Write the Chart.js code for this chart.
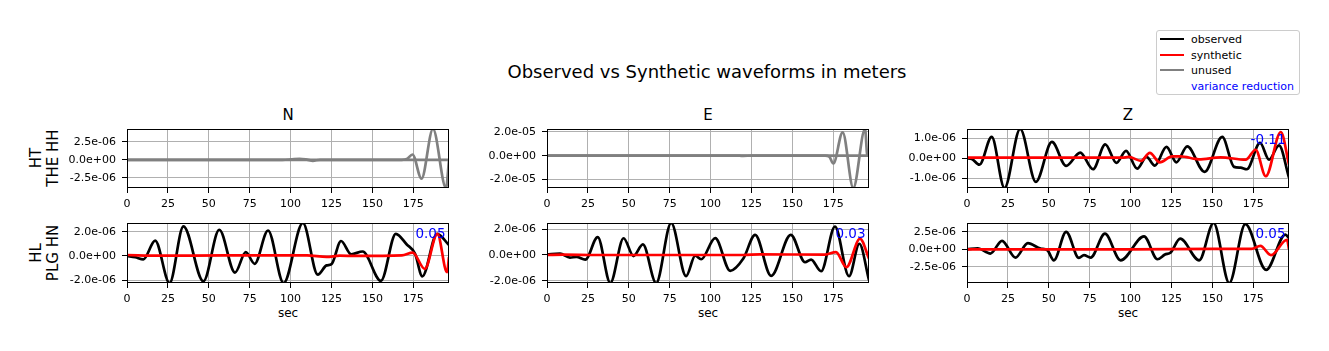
<!DOCTYPE html>
<html lang="en">
<head>
<meta charset="UTF-8">
<title>Observed vs Synthetic waveforms in meters</title>
<script src="https://cdn.jsdelivr.net/npm/chart.js"></script>
<style>
    * { margin: 0; padding: 0; box-sizing: border-box; }
    body {
        width: 1329px; height: 351px; position: relative; overflow: hidden;
        background: #fff; color: #000;
        font-family: 'DejaVu Sans', sans-serif;
    }
    canvas { position: absolute; }
    .txt { position: absolute; white-space: nowrap; line-height: 1; }

    .title { left: 707px; top: 63px; font-size: 18px; transform: translateX(-50%); }
    .coltitle { top: 108px; font-size: 15px; transform: translateX(-50%); }
    .xlabel { top: 307px; font-size: 12px; transform: translateX(-50%); }
    .ylabel {
        position: absolute; left: 45px; font-size: 15px; line-height: 17px;
        text-align: center; white-space: nowrap;
        transform: translate(-50%, -50%) rotate(-90deg);
    }

    /* Legend */
    #legend {
        position: absolute; left: 1156px; top: 30px; width: 144px; height: 65px;
        border: 1px solid #cccccc; border-radius: 3px; background: rgba(255,255,255,0.8);
    }
    #legend .handle { position: absolute; left: 3px; width: 24px; height: 2px; margin-top: -1px; }
    #legend .label { position: absolute; left: 34px; font-size: 11px; line-height: 11px; transform: translateY(-50%); }
</style>
</head>
<body>

<div class="txt title">Observed vs Synthetic waveforms in meters</div>
<div class="txt coltitle" style="left:288px">N</div>
<div class="txt coltitle" style="left:708px">E</div>
<div class="txt coltitle" style="left:1128px">Z</div>

<div class="ylabel" style="top:158px">HT<br>THE HH</div>
<div class="ylabel" style="top:253px">HL<br>PLG HN</div>

<div class="txt xlabel" style="left:288px">sec</div>
<div class="txt xlabel" style="left:708px">sec</div>
<div class="txt xlabel" style="left:1128px">sec</div>

<div id="legend">
    <div class="handle" style="top:8px; background:#000"></div>
    <div class="label" style="top:8px">observed</div>
    <div class="handle" style="top:24px; background:#ff0000"></div>
    <div class="label" style="top:24px">synthetic</div>
    <div class="handle" style="top:39px; background:#808080"></div>
    <div class="label" style="top:39px">unused</div>
    <div class="label" style="top:55px; color:#0000ff">variance reduction</div>
</div>

<canvas id="nTop"></canvas>
<canvas id="eTop"></canvas>
<canvas id="zTop"></canvas>
<canvas id="nBot"></canvas>
<canvas id="eBot"></canvas>
<canvas id="zBot"></canvas>

<script>
    // ---- data (time in sec, displacement in micrometres) ----
    const xTicks = [0, 25, 50, 75, 100, 125, 150, 175];
    const tEnd = 196.8;

    // N, HT THE HH (unused)
    const nTopT    = [0, 95, 100, 105.5, 110, 113.6, 118, 125, 168, 171, 174.5, 180, 187, 195, 196.8];
    const nTopObs  = [0, 0, 0.05, 0.14, 0.02, -0.14, 0, 0, 0, 0.1, 0.74, -2.64, 4.31, -3.95, 0];
    const nTopSynT = [0, 196.8];
    const nTopSyn  = [0, 0];

    // N, HL PLG HN
    const nBotT    = [0, 5, 10, 17.2, 26, 34.5, 46.7, 56.4, 66, 72.6, 78, 86.2, 95.7, 107.5, 116.6, 122, 125, 130.8, 137, 144, 155.2, 164.3, 171, 176, 180.5, 189.5, 196.8];
    const nBotObs  = [0, -0.1, -0.28, 1.27, -2.24, 2.45, -2.1, 2.17, -1.38, 0.31, -0.65, 2.11, -2.24, 2.73, -1.55, -0.78, -0.68, 1.24, 0.14, 0.37, -2.06, 1.83, 0.95, 0.2, -1.69, 1.83, 0.9];
    const nBotSynT = [0, 20, 60, 110, 122, 130, 140, 168, 174.6, 182, 189.7, 195.6, 196.8];
    const nBotSyn  = [0.08, 0.02, 0.05, 0.05, -0.08, 0.02, 0, 0.05, 0.28, -1.07, 1.83, -1.35, -0.1];

    // E, HT THE HH (unused)
    const eTopT    = [0, 110, 115, 120, 125, 170, 172.5, 175, 180.7, 187.2, 194.4, 195.8, 196.8];
    const eTopObs  = [0, 0, 0.15, -0.15, 0, 0, -0.8, -6.6, 19.7, -27.3, 22.5, 0, 0];
    const eTopSynT = [0, 196.8];
    const eTopSyn  = [0, 0];

    // E, HL PLG HN
    const eBotT    = [0, 8, 14, 18, 23.4, 31, 38.7, 46.8, 52.9, 58.6, 66.7, 75.9, 85, 90.6, 94.2, 102.8, 112, 120, 127.2, 137, 149, 157.7, 161.4, 167.5, 176, 184.6, 190.9, 196.8];
    const eBotObs  = [0.05, 0.1, -0.2, -0.15, -0.36, 1.38, -2.17, 1.3, -0.08, 0.82, -2.17, 2.48, -1.64, -0.05, -0.33, 1.31, -1.23, -0.28, 1.56, -1.62, 1.56, -0.56, -0.36, -1.26, 2.2, -1.64, 0.87, -1.95];
    const eBotSynT = [0, 10, 30, 120, 130, 170, 176.6, 183, 191.3, 196.8];
    const eBotSyn  = [0, 0.03, 0, 0, 0.05, 0.03, 0.23, -0.95, 1.26, -0.28];

    // Z, HT THE HH
    const zTopT    = [0, 2.9, 7.6, 15.1, 22.9, 32.5, 42.1, 51.9, 60.6, 69.2, 77, 84.5, 91.3, 97.2, 104, 109.7, 114.8, 121.9, 128, 134.6, 145.2, 156, 163.2, 167.2, 171, 179.1, 184.6, 190.7, 196.8];
    const zTopObs  = [0, -0.03, -0.32, 1.07, -1.49, 1.47, -1.18, 0.82, -0.38, 0.28, -0.55, 0.7, -0.23, 0.37, -0.52, 0.07, -0.37, 0.57, -0.2, 0.6, -0.68, 1.07, -0.43, -0.47, -0.55, 0.77, -0.07, 0.65, -0.97];
    const zTopSynT = [0, 95, 98.8, 106.4, 111.7, 117.8, 125.4, 130.5, 141.7, 155, 170.3, 176.4, 182.6, 191.8, 196.8];
    const zTopSyn  = [0.03, 0.03, 0.07, -0.13, 0.27, -0.2, 0.1, 0.1, -0.05, 0.05, -0.07, 0.43, -0.9, 1.32, -0.32];

    // Z, HL PLG HN
    const zBotT    = [0, 6.5, 14.3, 21.4, 29.6, 37.2, 45, 49, 53.1, 60.6, 68.4, 71.5, 75.6, 84.3, 93.9, 108.2, 116.4, 121, 124.5, 130.3, 141.9, 150.7, 160.3, 170.1, 182.8, 194.6, 196.8];
    const zBotObs  = [0, 0.15, -0.6, 1.22, -1.18, 0.88, 0.1, -0.1, -1.57, 2.5, -1.23, -0.83, -1.18, 2.25, -1.57, 1.86, -1.42, -0.75, -0.45, 1.52, -1.57, 3.76, -4.81, 3.6, -2.94, 2.1, 1.6];
    const zBotSynT = [0, 100, 150, 174, 179.3, 185.8, 195.6, 196.8];
    const zBotSyn  = [0, 0, 0.05, 0.05, 0.5, -0.83, 1.37, 0];

    // y limits and ticks (micrometres), variance reduction labels
    const yLimits = { nTop: [-3.95, 4.31], nBot: [-2.24, 2.73], eTop: [-27.3, 22.5], eBot: [-2.17, 2.48], zTop: [-1.49, 1.47], zBot: [-4.81, 3.76] };
    const yTicks  = { nTop: [-2.5, 0, 2.5], nBot: [-2, 0, 2], eTop: [-20, 0, 20], eBot: [-2, 0, 2], zTop: [-1, 0, 1], zBot: [-2.5, 0, 2.5] };
    const varRed  = { nBot: '0.05', eBot: '0.03', zTop: '-0.11', zBot: '0.05' };

    const UM = 1e-6;

    // ---- layout ----
    const colLeft = [127, 547, 967];
    const rowTop = [129, 223];
    const rowHeight = [59, 60];
    const axW = 322, padL = 100, padT = 16, padR = 8, xAxisH = 26;

    Chart.defaults.font.family = "'DejaVu Sans', sans-serif";
    Chart.defaults.font.size = 11;
    Chart.defaults.color = '#000';

    function sci(v) {
        if (Math.abs(v) < 1e-15) return '0.0e+00';
        const parts = v.toExponential(1).split('e');
        const e = parseInt(parts[1], 10);
        return parts[0] + 'e' + (e < 0 ? '-' : '+') + String(Math.abs(e)).padStart(2, '0');
    }

    // axes box + variance reduction text
    const framePlugin = {
        id: 'frame',
        afterDatasetsDraw(chart, args, opts) {
            const { ctx, chartArea: a } = chart;
            ctx.save();
            ctx.strokeStyle = '#000';
            ctx.lineWidth = 1;
            ctx.strokeRect(a.left + 0.5, a.top + 0.5, a.right - a.left - 1, a.bottom - a.top - 1);
            if (opts.note) {
                ctx.fillStyle = '#0000ff';
                ctx.font = "13.5px 'DejaVu Sans', sans-serif";
                ctx.textAlign = 'right';
                ctx.textBaseline = 'alphabetic';
                ctx.fillText(opts.note, a.right - 3.5, a.top + 15);
            }
            ctx.restore();
        }
    };

    function pts(t, v) {
        return t.map((x, i) => ({ x: x, y: v[i] * UM }));
    }

    function line(data, color) {
        return {
            data: data, borderColor: color, borderWidth: 2.7, pointRadius: 0,
            cubicInterpolationMode: 'monotone', fill: false, clip: 0
        };
    }

    function makePanel(id, col, row, tObs, obs, tSyn, syn, used) {
        const cv = document.getElementById(id);
        const h = rowHeight[row];
        cv.width = axW + padL + padR;
        cv.height = h + padT + xAxisH;
        cv.style.left = (colLeft[col] - padL) + 'px';
        cv.style.top = (rowTop[row] - padT) + 'px';

        const obsColor = used ? '#000000' : '#808080';
        const synColor = used ? '#ff0000' : '#808080';
        const lim = yLimits[id];

        new Chart(cv, {
            type: 'line',
            data: {
                datasets: [
                    line(pts(tSyn, syn), synColor),   // drawn on top
                    line(pts(tObs, obs), obsColor)
                ]
            },
            options: {
                responsive: false,
                animation: false,
                devicePixelRatio: 1,
                events: [],
                layout: { autoPadding: false, padding: { left: 0, top: padT, right: padR, bottom: 0 } },
                plugins: {
                    legend: { display: false },
                    tooltip: { enabled: false },
                    frame: { note: varRed[id] || null }
                },
                scales: {
                    x: {
                        type: 'linear', min: 0, max: tEnd,
                        afterBuildTicks: s => { s.ticks = xTicks.map(v => ({ value: v })); },
                        afterFit: s => { s.height = xAxisH; },
                        ticks: { autoSkip: false, maxRotation: 0, padding: 5, color: '#000', font: { size: 11 } },
                        grid: { color: '#b0b0b0', lineWidth: 1, tickColor: '#000', tickLength: 5 },
                        border: { display: false }
                    },
                    y: {
                        type: 'linear', min: lim[0] * UM, max: lim[1] * UM,
                        afterBuildTicks: s => { s.ticks = yTicks[id].map(v => ({ value: v * UM })); },
                        afterFit: s => { s.width = padL; },
                        ticks: { autoSkip: false, padding: 6, color: '#000', font: { size: 11 }, callback: v => sci(v) },
                        grid: { color: '#b0b0b0', lineWidth: 1, tickColor: '#000', tickLength: 5 },
                        border: { display: false }
                    }
                }
            },
            plugins: [framePlugin]
        });
    }

    makePanel('nTop', 0, 0, nTopT, nTopObs, nTopSynT, nTopSyn, false);
    makePanel('eTop', 1, 0, eTopT, eTopObs, eTopSynT, eTopSyn, false);
    makePanel('zTop', 2, 0, zTopT, zTopObs, zTopSynT, zTopSyn, true);
    makePanel('nBot', 0, 1, nBotT, nBotObs, nBotSynT, nBotSyn, true);
    makePanel('eBot', 1, 1, eBotT, eBotObs, eBotSynT, eBotSyn, true);
    makePanel('zBot', 2, 1, zBotT, zBotObs, zBotSynT, zBotSyn, true);
</script>

</body>
</html>
